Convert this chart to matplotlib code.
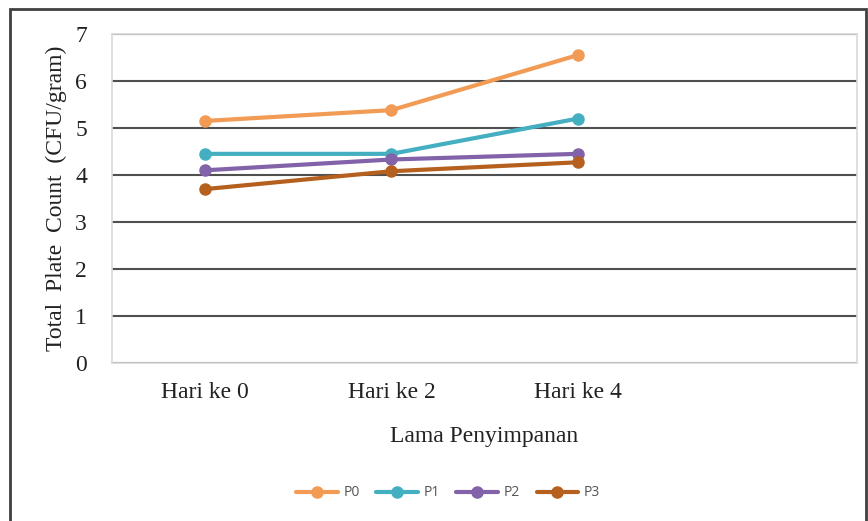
import matplotlib
matplotlib.use("Agg")
import matplotlib.pyplot as plt
import numpy as np
from matplotlib.patches import Rectangle

# data
hari = ["Hari ke 0", "Hari ke 2", "Hari ke 4", ""]
p0 = [5.15, 5.38, 6.55]
p1 = [4.45, 4.45, 5.20]
p2 = [4.10, 4.33, 4.45]
p3 = [3.70, 4.08, 4.27]
series = ["P0", "P1", "P2", "P3"]
warna = ["#F29B55", "#45AFC2", "#8262A8", "#B5601F"]

fig = plt.figure(figsize=(8.68, 5.21), dpi=100)
ax = fig.add_axes([112/868, 1 - 363/521, 745/868, 329/521])

x = np.arange(len(hari))
for vals, nama, c in zip([p0, p1, p2, p3], series, warna):
    ax.plot(x[:len(vals)], vals, color=c, lw=3, marker="o", ms=8, label=nama,
            solid_capstyle="round")

ax.set_xlim(-0.5, len(hari) - 0.5)
ax.set_ylim(0, 7)
ax.set_yticks(range(0, 8))
ax.set_xticks(x)
ax.set_xticklabels(hari)
ax.yaxis.grid(True, color="#505050", lw=1.5)
ax.set_axisbelow(True)
ax.tick_params(length=0, labelsize=17)
ax.tick_params(axis="x", pad=14)
ax.tick_params(axis="y", pad=18)
for lbl in ax.get_xticklabels() + ax.get_yticklabels():
    lbl.set_fontfamily("Liberation Serif")
    lbl.set_color("#222222")
for s in ax.spines.values():
    s.set_color("#D9D9D9")
    s.set_linewidth(1.2)

ax.set_xlabel("Lama Penyimpanan", fontfamily="Liberation Serif", fontsize=17,
              color="#222222", labelpad=16)
ax.set_ylabel("Total  Plate  Count  (CFU/gram)", fontfamily="Liberation Serif",
              fontsize=17, color="#222222", labelpad=6)

leg = fig.legend(loc="center", bbox_to_anchor=(448/868, 1 - 493/521), ncol=4,
                 frameon=False, handlelength=3, columnspacing=1.2,
                 handletextpad=0.4, prop={"family": "Open Sans", "size": 10})
for t in leg.get_texts():
    t.set_color("#555555")

# outer chart frame
fig.patches.append(Rectangle((10/868, -0.05), 856/868, 1.05 - 9/521,
                             transform=fig.transFigure, fill=False,
                             edgecolor="#404040", lw=2))

fig.savefig("out.png", dpi=100)
